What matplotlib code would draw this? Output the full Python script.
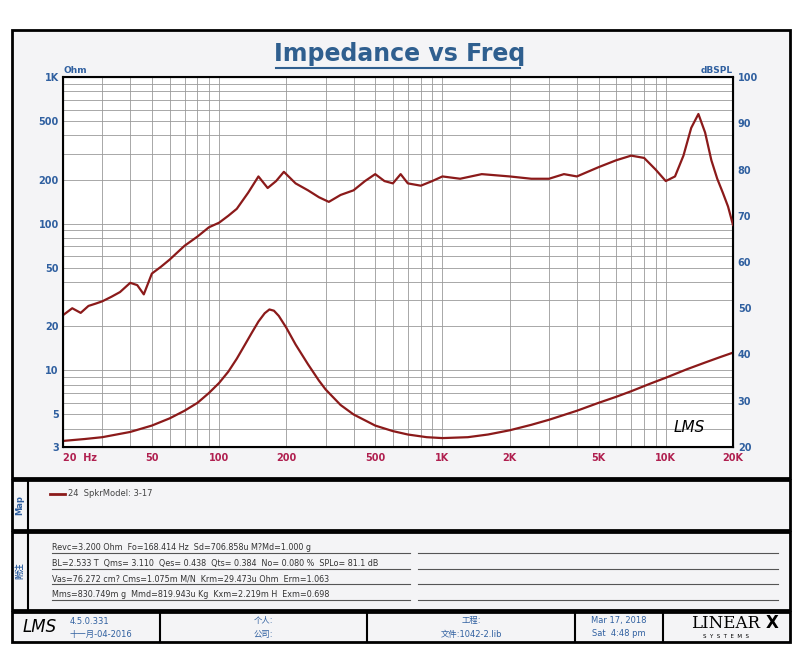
import matplotlib.pyplot as plt
import matplotlib.patches as mpatches
import numpy as np

plt.rcParams['font.family'] = ['DejaVu Sans', 'Noto Sans CJK SC']

W, H = 800, 669

# impedance (Ohm, left log axis)
imp_f = [20, 25, 30, 40, 50, 60, 70, 80, 90, 100, 110, 120, 130, 140, 150, 160, 168, 176, 185, 200, 220, 250, 280, 300, 350, 400, 500, 600, 700, 850, 1000, 1300, 1600, 2000, 2500, 3000, 4000, 5000, 6000, 7000, 8500, 10000, 12500, 15000, 17500, 20000]
imp_z = [3.3, 3.4, 3.5, 3.8, 4.2, 4.7, 5.3, 6.0, 7.0, 8.2, 9.8, 12.0, 14.8, 18.0, 21.5, 24.5, 26.0, 25.5, 23.5, 19.5, 15.0, 11.0, 8.5, 7.4, 5.8, 5.0, 4.2, 3.85, 3.65, 3.5, 3.45, 3.5, 3.65, 3.9, 4.25, 4.6, 5.3, 6.0, 6.6, 7.2, 8.1, 8.9, 10.2, 11.3, 12.3, 13.2]

# SPL (dB, right axis)
spl_f = [20, 22, 24, 26, 28, 30, 33, 36, 40, 43, 46, 50, 55, 60, 70, 80, 90, 100, 110, 120, 135, 150, 165, 180, 195, 220, 250, 280, 310, 350, 400, 450, 500, 550, 600, 650, 700, 800, 900, 1000, 1200, 1500, 2000, 2500, 3000, 3500, 4000, 5000, 6000, 7000, 8000, 9000, 10000, 11000, 12000, 13000, 14000, 15000, 16000, 17000, 18000, 19000, 20000]
spl_db = [48.5, 50.0, 49.0, 50.5, 51.0, 51.5, 52.5, 53.5, 55.5, 55.0, 53.0, 57.5, 59.0, 60.5, 63.5, 65.5, 67.5, 68.5, 70.0, 71.5, 75.0, 78.5, 76.0, 77.5, 79.5, 77.0, 75.5, 74.0, 73.0, 74.5, 75.5, 77.5, 79.0, 77.5, 77.0, 79.0, 77.0, 76.5, 77.5, 78.5, 78.0, 79.0, 78.5, 78.0, 78.0, 79.0, 78.5, 80.5, 82.0, 83.0, 82.5, 80.0, 77.5, 78.5, 83.0, 89.0, 92.0, 88.0, 82.0, 78.0, 75.0, 72.0, 68.0]

def fx(px): return px / W
def fy(py): return 1 - py / H

fig = plt.figure(figsize=(8, 6.69), dpi=100)
fig.patch.set_facecolor('white')

def rect(x0, y0, x1, y1, lw=2.0, fc='#f4f4f6'):
    fig.patches.append(mpatches.Rectangle((fx(x0), fy(y1)), fx(x1 - x0), (y1 - y0) / H,
                                          transform=fig.transFigure, fill=True, fc=fc, ec='black',
                                          lw=lw, zorder=-10))

rect(12, 30, 790, 478)
rect(12, 480, 790, 530)
rect(12, 532, 790, 610)
rect(12, 612, 790, 642)
for x in [28]:
    fig.add_artist(plt.Line2D([fx(x)] * 2, [fy(480), fy(610)], color='black', lw=1.5))
for x in [160, 367, 575, 663]:
    fig.add_artist(plt.Line2D([fx(x)] * 2, [fy(612), fy(642)], color='black', lw=1.5))

fig.text(fx(400), fy(54), 'Impedance vs Freq', ha='center', va='center', fontsize=17,
         fontweight='bold', color='#2f5f8f')
fig.add_artist(plt.Line2D([fx(276), fx(520)], [fy(68), fy(68)], color='#2f5f8f', lw=1.5))

ax = fig.add_axes([fx(63), fy(447), fx(733 - 63), (447 - 77) / H])
ax.set_facecolor('white')
ax.set_xscale('log'); ax.set_yscale('log')
ax.set_xlim(20, 20000); ax.set_ylim(3, 1000)
ax.grid(True, which='both', color='#9a9a9a', lw=0.6)
xt = [20, 50, 100, 200, 500, 1000, 2000, 5000, 10000, 20000]
ax.set_xticks(xt); ax.set_xticklabels(['20  Hz', '50', '100', '200', '500', '1K', '2K', '5K', '10K', '20K'])
yt = [3, 5, 10, 20, 50, 100, 200, 500, 1000]
ax.set_yticks(yt); ax.set_yticklabels(['3', '5', '10', '20', '50', '100', '200', '500', '1K'])
ax.minorticks_on()
ax.tick_params(which='both', length=0, labelsize=7)
ax.tick_params(axis='x', colors='#b02050', pad=4)
ax.tick_params(axis='y', colors='#3060a0', pad=3)
for lab in ax.get_xticklabels() + ax.get_yticklabels():
    lab.set_fontweight('bold')
ax.get_xticklabels()[0].set_horizontalalignment('left')
ax.xaxis.set_minor_formatter(plt.NullFormatter())
ax.yaxis.set_minor_formatter(plt.NullFormatter())
for s in ax.spines.values():
    s.set_lw(1.5)
ax.plot(imp_f, imp_z, color='#8b1a1a', lw=1.6)

ax2 = ax.twinx()
ax2.set_ylim(20, 100)
ax2.set_yticks(range(20, 101, 10))
ax2.tick_params(length=0, labelsize=7, colors='#3060a0')
for lab in ax2.get_yticklabels():
    lab.set_fontweight('bold')
ax2.plot(spl_f, spl_db, color='#8b1a1a', lw=1.6)
ax.text(0, 1.01, 'Ohm', transform=ax.transAxes, fontsize=6.5, color='#3060a0', fontweight='bold')
ax2.text(1, 1.01, 'dBSPL', transform=ax.transAxes, fontsize=6.5, color='#3060a0', fontweight='bold', ha='right')
ax.text(0.935, 0.04, 'LMS', transform=ax.transAxes, fontsize=11, style='italic', ha='center')

fig.text(fx(20), fy(505), 'Map', rotation=90, ha='center', va='center', fontsize=6, color='#3060a0', fontweight='bold')
fig.text(fx(20), fy(571), '附注', rotation=90, ha='center', va='center', fontsize=6, color='#3060a0', fontweight='bold')
fig.add_artist(plt.Line2D([fx(50), fx(65)], [fy(494)] * 2, color='#8b1a1a', lw=2))
fig.text(fx(68), fy(494), '24  SpkrModel: 3-17', va='center', fontsize=6, color='#444444')

params = ['Revc=3.200 Ohm  Fo=168.414 Hz  Sd=706.858u M?Md=1.000 g',
          'BL=2.533 T  Qms= 3.110  Qes= 0.438  Qts= 0.384  No= 0.080 %  SPLo= 81.1 dB',
          'Vas=76.272 cm? Cms=1.075m M/N  Krm=29.473u Ohm  Erm=1.063',
          'Mms=830.749m g  Mmd=819.943u Kg  Kxm=2.219m H  Exm=0.698']
for i, t in enumerate(params):
    y = 548 + i * 15.5
    fig.text(fx(52), fy(y), t, va='center', fontsize=5.8, color='#333333')
    fig.add_artist(plt.Line2D([fx(52), fx(410)], [fy(y + 5)] * 2, color='#555555', lw=0.8))
    fig.add_artist(plt.Line2D([fx(418), fx(778)], [fy(y + 5)] * 2, color='#555555', lw=0.8))

blue = '#3060a0'
fig.text(fx(40), fy(627), 'LMS', ha='center', va='center', fontsize=12, style='italic')
fig.text(fx(70), fy(621), '4.5.0.331', va='center', fontsize=6, color=blue)
fig.text(fx(70), fy(634), '十一月-04-2016', va='center', fontsize=6, color=blue)
fig.text(fx(263), fy(621), '个人:', ha='center', va='center', fontsize=6, color=blue)
fig.text(fx(263), fy(634), '公司:', ha='center', va='center', fontsize=6, color=blue)
fig.text(fx(471), fy(621), '工程:', ha='center', va='center', fontsize=6, color=blue)
fig.text(fx(471), fy(634), '文件:1042-2.lib', ha='center', va='center', fontsize=6, color=blue)
fig.text(fx(619), fy(621), 'Mar 17, 2018', ha='center', va='center', fontsize=6, color=blue)
fig.text(fx(619), fy(634), 'Sat  4:48 pm', ha='center', va='center', fontsize=6, color=blue)
fig.text(fx(726), fy(623), 'LINEAR', ha='center', va='center', fontsize=12, family='serif')
fig.text(fx(772), fy(623), 'X', ha='center', va='center', fontsize=12, fontweight='bold')
fig.text(fx(726), fy(637), 'S  Y  S  T  E  M  S', ha='center', va='center', fontsize=4)

fig.savefig('out.png', dpi=100)
